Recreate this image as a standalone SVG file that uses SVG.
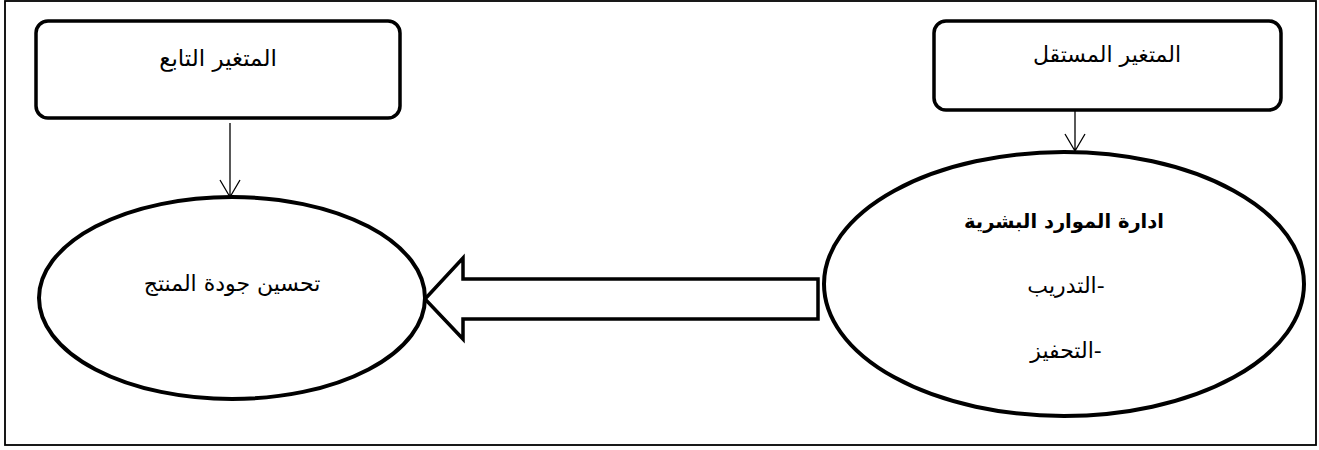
<svg xmlns="http://www.w3.org/2000/svg" width="1319" height="450" viewBox="0 0 1319 450">
<style>
text{font-family:"DejaVu Sans","Liberation Sans",sans-serif;font-size:22px;fill:#000;text-anchor:middle}
.b{font-weight:bold;font-size:19.5px}
.box{fill:#fff;stroke:#000;stroke-width:3.5}
.ell{fill:#fff;stroke:#000;stroke-width:4}
.ln{fill:none;stroke:#000;stroke-width:1.3}
</style>
<rect x="5" y="1" width="1311" height="444" fill="#fff" stroke="#000" stroke-width="1.8"/>
<g id="connectors">
<path class="ln" d="M230,123V197M220,180L230,197L240,180"/>
<path class="ln" d="M1075,111V151M1065,134L1075,151L1085,134"/>
<polygon points="425,299 463,258 463,279 818,279 818,319 463,319 463,339" fill="#fff" stroke="#000" stroke-width="3.5" stroke-linejoin="miter"/>
</g>
<g id="dep-box">
<rect class="box" x="36" y="21" width="364" height="97" rx="12"/>
<text x="218" y="66" style="font-size:23px">المتغير التابع</text>
</g>
<g id="indep-box">
<rect class="box" x="934" y="21" width="347" height="89" rx="12"/>
<text x="1107" y="62" style="font-size:22px">المتغير المستقل</text>
</g>
<g id="dep-ellipse">
<ellipse class="ell" cx="232" cy="298" rx="193" ry="101"/>
<text x="232" y="291">تحسين جودة المنتج</text>
</g>
<g id="indep-ellipse">
<ellipse class="ell" cx="1064" cy="284" rx="240" ry="132"/>
<text class="b" x="1064" y="228">ادارة الموارد البشرية</text>
<text x="1066" y="293">&#x200F;-التدريب</text>
<text x="1066" y="358">&#x200F;-التحفيز</text>
</g>
</svg>
